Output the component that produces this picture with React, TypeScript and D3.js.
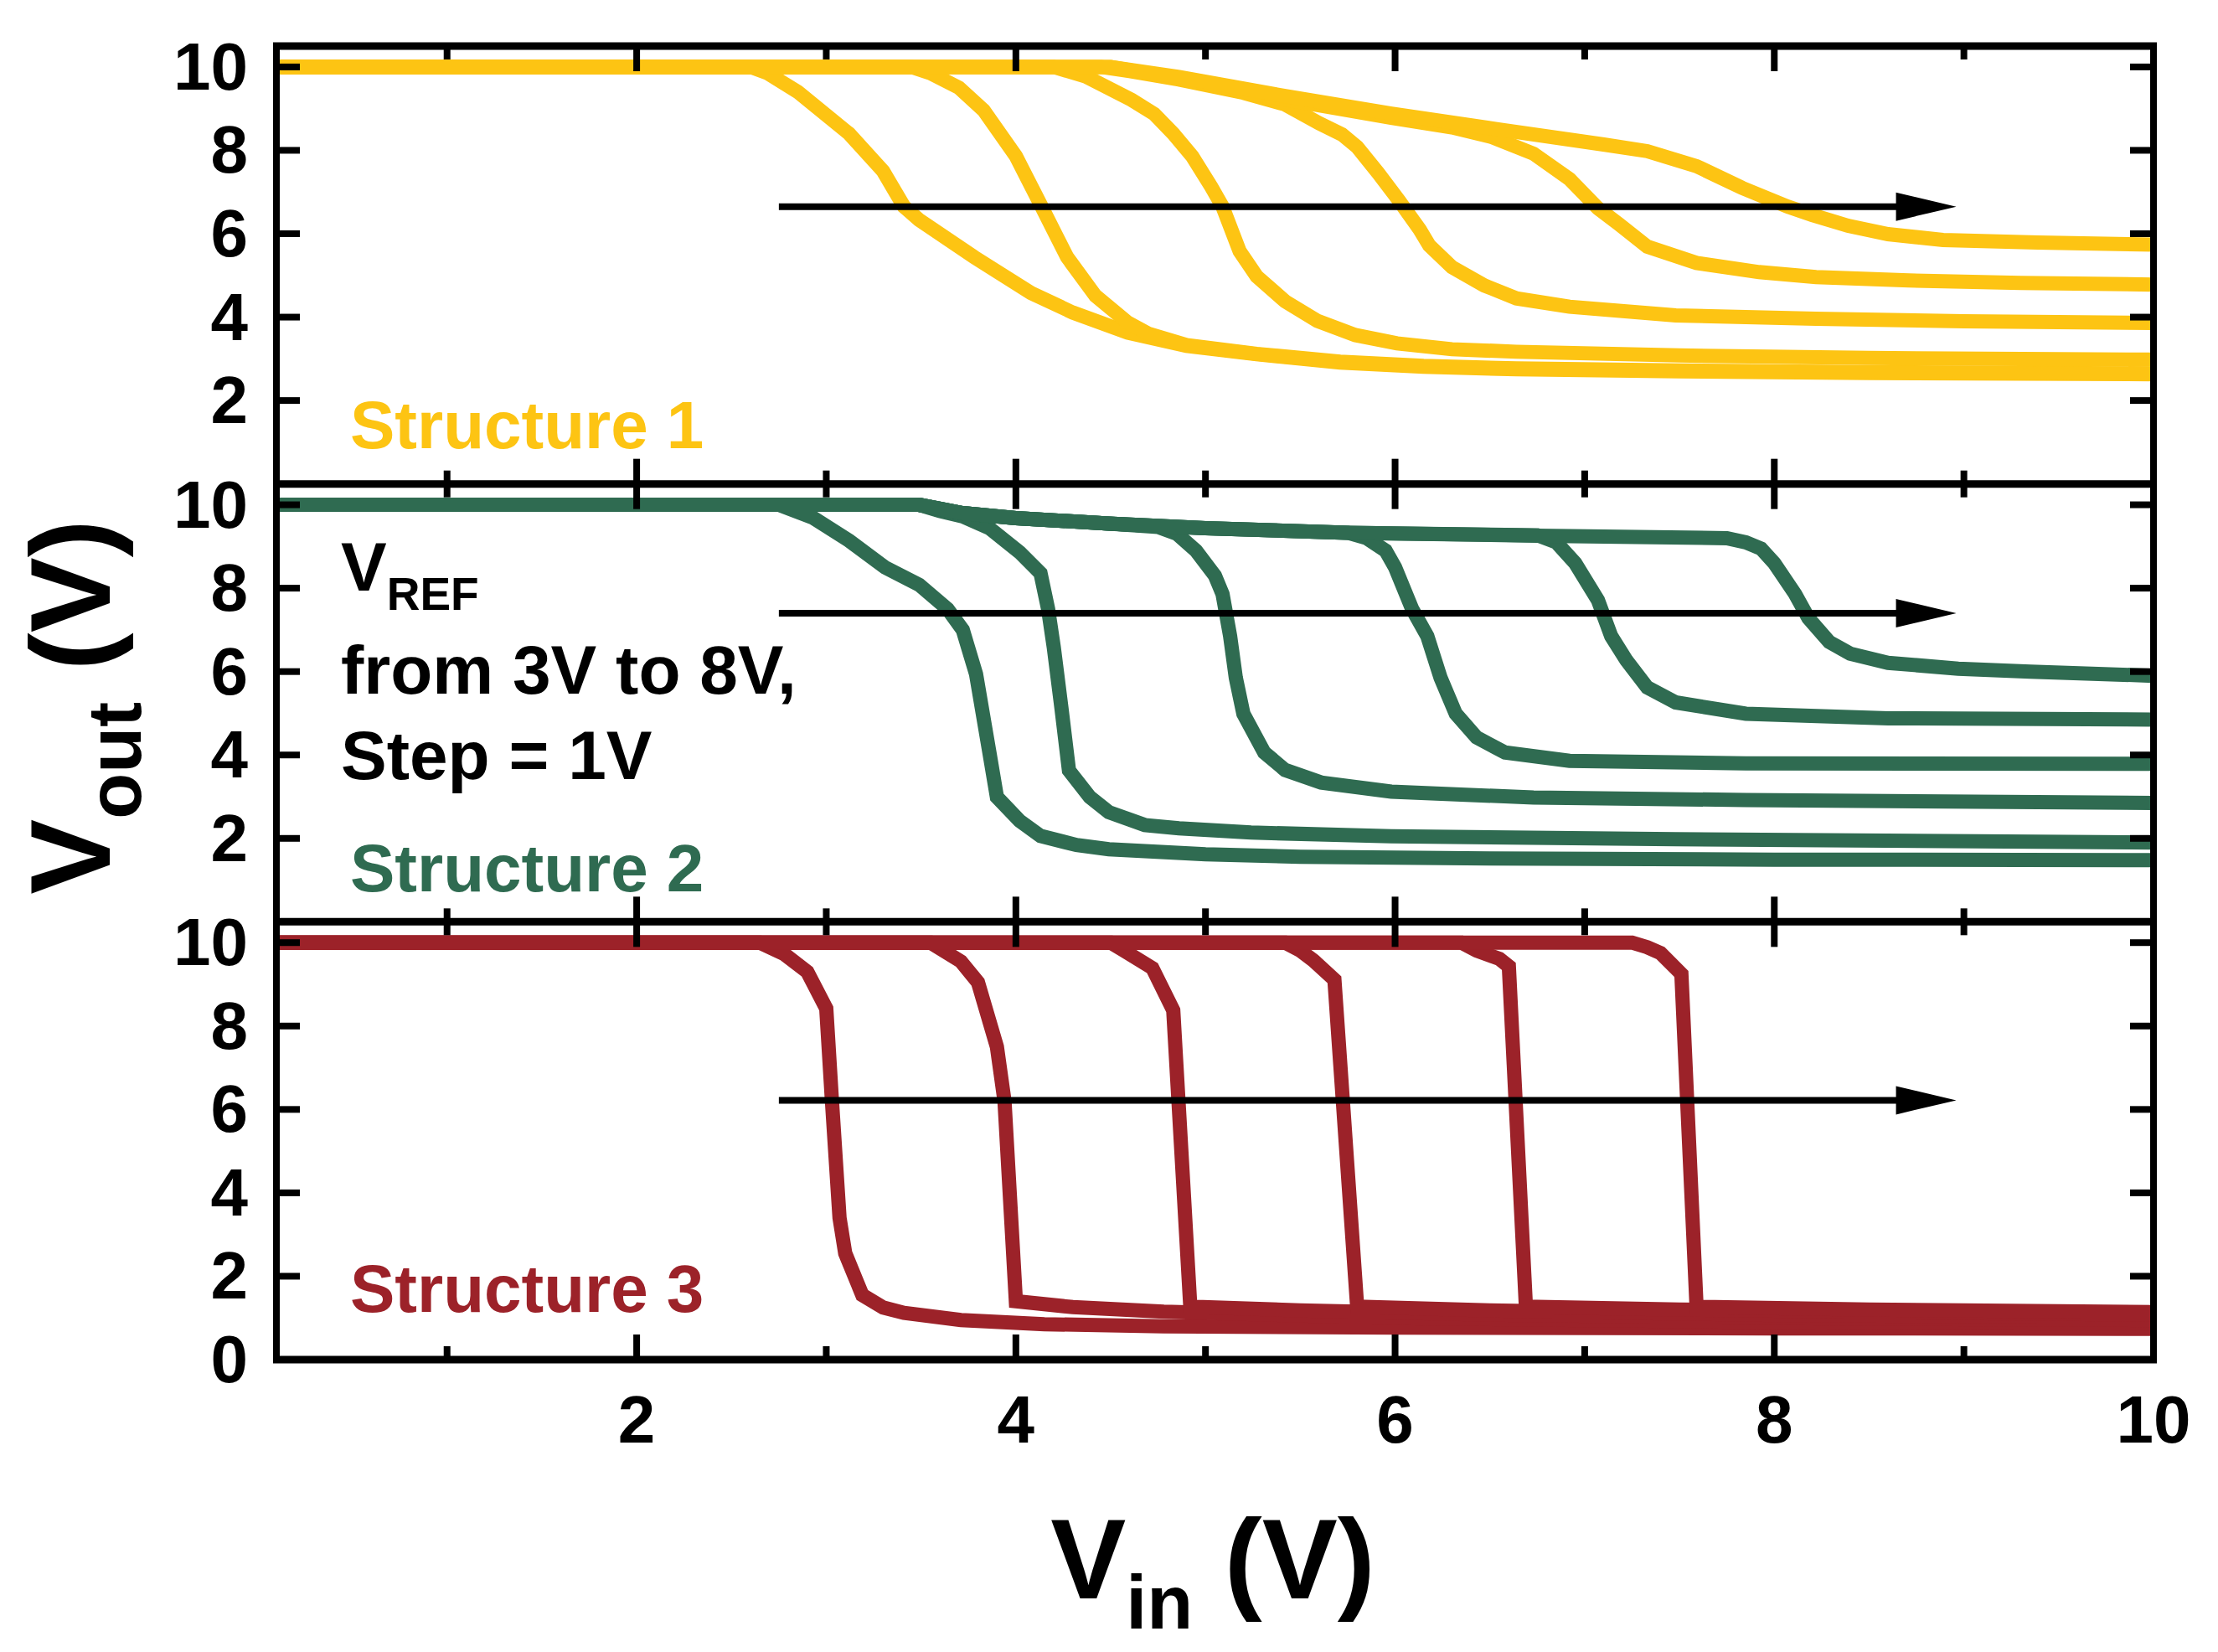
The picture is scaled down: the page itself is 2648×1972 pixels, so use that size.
import React from "react";
import * as d3 from "d3";

type Pt = [number, number];

// ---------- Data (Vin, Vout) ----------
// Structure 1 (yellow)
const s1v3: Pt[] = [[0.1,10],[2.6,10],[2.69,9.85],[2.85,9.4],[3.12,8.4],[3.3,7.5],[3.41,6.65],[3.49,6.33],[3.78,5.44],[4.08,4.58],[4.3,4.11],[4.59,3.63],[4.9,3.31],[5.27,3.11],[5.71,2.91],[6.15,2.81],[6.64,2.75],[7.5,2.7],[8.5,2.66],[10,2.63]];
const s1v4: Pt[] = [[0.1,10],[3.45,10],[3.55,9.85],[3.7,9.5],[3.83,8.96],[4.0,7.86],[4.12,6.79],[4.27,5.44],[4.42,4.51],[4.59,3.87],[4.7,3.6],[4.9,3.33],[5.27,3.12],[5.71,2.93],[6.15,2.83],[6.64,2.77],[7.5,2.72],[8.5,2.68],[10,2.65]];
const s1v5: Pt[] = [[0.1,10],[4.2,10],[4.37,9.77],[4.61,9.21],[4.73,8.87],[4.83,8.4],[4.93,7.86],[5.03,7.13],[5.09,6.65],[5.18,5.58],[5.27,4.98],[5.42,4.38],[5.59,3.91],[5.79,3.57],[6.01,3.37],[6.3,3.23],[6.64,3.17],[7.5,3.08],[8.5,3.02],[10,2.98]];
const s1v6: Pt[] = [[0.1,10],[4.45,10],[4.6,9.9],[4.86,9.7],[5.2,9.38],[5.42,9.1],[5.6,8.65],[5.72,8.38],[5.8,8.08],[5.91,7.46],[6.02,6.8],[6.13,6.1],[6.18,5.72],[6.3,5.2],[6.47,4.76],[6.64,4.45],[6.92,4.25],[7.48,4.04],[8.22,3.96],[9,3.9],[10,3.86]];
const s1v7: Pt[] = [[0.1,10],[4.5,10],[4.86,9.72],[5.42,9.22],[5.98,8.78],[6.3,8.55],[6.51,8.32],[6.73,7.92],[6.92,7.31],[7.07,6.61],[7.18,6.23],[7.33,5.69],[7.59,5.3],[7.92,5.08],[8.22,4.96],[8.71,4.88],[9.3,4.82],[10,4.78]];
const s1v8: Pt[] = [[0.1,10],[4.5,10],[4.86,9.76],[5.42,9.3],[5.98,8.88],[6.55,8.5],[7.1,8.14],[7.33,7.98],[7.59,7.62],[7.77,7.23],[7.83,7.1],[8.07,6.65],[8.2,6.45],[8.39,6.19],[8.6,5.99],[8.89,5.85],[9.39,5.79],[10,5.74]];

// Structure 2 (green)
const s2v3: Pt[] = [[0.1,10],[2.75,10],[2.93,9.69],[3.12,9.14],[3.31,8.5],[3.49,8.08],[3.64,7.5],[3.72,7.0],[3.79,5.94],[3.86,4.07],[3.9,2.99],[4.02,2.42],[4.13,2.06],[4.32,1.84],[4.49,1.74],[5.0,1.62],[5.5,1.56],[6.5,1.52],[8,1.49],[10,1.48]];
const s2v4: Pt[] = [[0.1,10],[3.49,10],[3.6,9.85],[3.72,9.72],[3.86,9.44],[4.02,8.86],[4.13,8.36],[4.17,7.5],[4.2,6.58],[4.24,5.14],[4.28,3.63],[4.39,2.99],[4.49,2.63],[4.68,2.32],[4.86,2.24],[5.24,2.14],[5.98,2.05],[7.48,1.98],[10,1.9]];
const s2v5: Pt[] = [[0.1,10],[3.49,10],[3.72,9.8],[4.0,9.68],[4.49,9.55],[4.75,9.47],[4.85,9.3],[4.95,8.9],[5.05,8.3],[5.09,7.86],[5.13,6.85],[5.16,5.85],[5.2,4.99],[5.31,4.06],[5.42,3.64],[5.61,3.34],[5.98,3.12],[6.73,2.98],[7.85,2.92],[10,2.85]];
const s2v6: Pt[] = [[0.1,10],[3.49,10],[3.72,9.8],[4.0,9.68],[4.49,9.55],[5.0,9.44],[5.75,9.33],[5.85,9.2],[5.95,8.9],[6.0,8.5],[6.09,7.5],[6.17,6.85],[6.24,5.85],[6.32,4.99],[6.43,4.42],[6.58,4.06],[6.92,3.86],[7.85,3.8],[10,3.79]];
const s2v7: Pt[] = [[0.1,10],[3.49,10],[3.72,9.8],[4.0,9.68],[4.49,9.55],[5.0,9.44],[5.75,9.33],[6.75,9.27],[6.85,9.1],[6.95,8.6],[7.07,7.71],[7.14,6.85],[7.22,6.27],[7.33,5.62],[7.48,5.26],[7.85,4.99],[8.6,4.88],[10,4.85]];
const s2v8: Pt[] = [[0.1,10],[3.49,10],[3.72,9.8],[4.0,9.68],[4.49,9.55],[5.0,9.44],[5.75,9.33],[6.75,9.26],[7.75,9.2],[7.85,9.1],[7.93,8.95],[8.0,8.6],[8.11,7.86],[8.18,7.28],[8.29,6.71],[8.4,6.43],[8.6,6.21],[8.97,6.07],[9.35,6.0],[10,5.9]];

// Structure 3 (red)
const s3v3: Pt[] = [[0.1,10],[2.65,10],[2.78,9.72],[2.9,9.3],[3.0,8.42],[3.03,6.2],[3.07,3.4],[3.1,2.55],[3.19,1.55],[3.3,1.25],[3.41,1.12],[3.71,0.95],[4.15,0.85],[4.78,0.8],[6,0.77],[8,0.75],[10,0.74]];
const s3v4: Pt[] = [[0.1,10],[3.55,10],[3.71,9.55],[3.8,9.05],[3.9,7.5],[3.94,6.2],[4.0,1.4],[4.3,1.26],[4.78,1.15],[6,1.0],[8,0.9],[10,0.86]];
const s3v5: Pt[] = [[0.1,10],[4.5,10],[4.57,9.81],[4.72,9.39],[4.83,8.38],[4.92,1.27],[5.5,1.18],[6.5,1.08],[8,1.0],[10,0.95]];
const s3v6: Pt[] = [[0.1,10],[5.42,10],[5.5,9.81],[5.57,9.57],[5.68,9.11],[5.8,1.27],[6.5,1.18],[8,1.07],[10,1.02]];
const s3v7: Pt[] = [[0.1,10],[6.35,10],[6.43,9.81],[6.55,9.61],[6.6,9.43],[6.69,1.27],[7.5,1.2],[9,1.12],[10,1.08]];
const s3v8: Pt[] = [[0.1,10],[7.25,10],[7.33,9.89],[7.4,9.75],[7.51,9.25],[7.59,1.27],[8.5,1.2],[10,1.14]];

const panelSeries: Pt[][][] = [
  [s1v3, s1v4, s1v5, s1v6, s1v7, s1v8],
  [s2v3, s2v4, s2v5, s2v6, s2v7, s2v8],
  [s3v3, s3v4, s3v5, s3v6, s3v7, s3v8],
];
const panelColors = ["#FDC413", "#2F6B51", "#9C2229"];
const panelNames = ["Structure 1", "Structure 2", "Structure 3"];
const arrowY = [6.65, 7.4, 6.22];
const arrowX: [number, number] = [2.75, 8.96];

const xMajor = [2, 4, 6, 8, 10];
const xMinor = [1, 3, 5, 7, 9];
const yTicks = [2, 4, 6, 8, 10];
const yLabelSets = [[2, 4, 6, 8, 10], [2, 4, 6, 8, 10], [0, 2, 4, 6, 8, 10]];

// ---------- Layout ----------
const W = 2648, H = 1972;
const LEFT = 330, RIGHT = 2571;
const TOP = 55, BOTTOM = 1623;
const PH = (BOTTOM - TOP) / 3;
const FONT = "'Liberation Sans', Arial, Helvetica, sans-serif";

const x = d3.scaleLinear().domain([0.1, 10]).range([LEFT, RIGHT]);
const yScales = [0, 1, 2].map((i) =>
  d3.scaleLinear().domain([0, 10.5]).range([TOP + PH * (i + 1), TOP + PH * i])
);

export default function App() {
  const frameH = [TOP, TOP + PH, TOP + 2 * PH, BOTTOM];
  const labelBase = [535, 1064, 1566];
  return (
    <svg width={W} height={H} style={{ position: "absolute", left: 0, top: 0, background: "#fff" }}
      fontFamily={FONT} fontWeight="bold">
      <rect x={0} y={0} width={W} height={H} fill="#fff" />
      {panelSeries.map((series, pi) => {
        const y = yScales[pi];
        const line = d3.line<Pt>().x((d) => x(d[0])).y((d) => y(d[1]));
        return (
          <g key={"p" + pi}>
            {series.map((s, si) => (
              <path key={si} d={line(s) || ""} fill="none" stroke={panelColors[pi]}
                strokeWidth={17} strokeLinejoin="miter" />
            ))}
            {/* arrow */}
            <line x1={x(arrowX[0])} x2={x(arrowX[1]) - 60} y1={y(arrowY[pi])} y2={y(arrowY[pi])}
              stroke="#000" strokeWidth={8} />
            <path d={`M${x(arrowX[1])},${y(arrowY[pi])} L${x(arrowX[1]) - 72},${y(arrowY[pi]) - 17} L${x(arrowX[1]) - 72},${y(arrowY[pi]) + 17} Z`} fill="#000" />
            {/* y ticks */}
            {yTicks.map((t) => (
              <g key={"yt" + t}>
                <line x1={LEFT} x2={LEFT + 28} y1={y(t)} y2={y(t)} stroke="#000" strokeWidth={8} />
                <line x1={RIGHT} x2={RIGHT - 28} y1={y(t)} y2={y(t)} stroke="#000" strokeWidth={8} />
              </g>
            ))}
            {yLabelSets[pi].map((t) => (
              <text key={"yl" + t} x={296} y={y(t) + 27} fontSize={80} textAnchor="end" fill="#000">{t}</text>
            ))}
            <text x={418} y={labelBase[pi]} fontSize={80} fill={panelColors[pi]}>{panelNames[pi]}</text>
          </g>
        );
      })}

      {/* x ticks on every horizontal frame line */}
      {frameH.map((fy, fi) => (
        <g key={"xf" + fi}>
          {xMajor.map((t) => (
            <g key={"M" + t}>
              {fi < 3 && <line x1={x(t)} x2={x(t)} y1={fy} y2={fy + 30} stroke="#000" strokeWidth={8} />}
              {fi > 0 && <line x1={x(t)} x2={x(t)} y1={fy} y2={fy - 30} stroke="#000" strokeWidth={8} />}
            </g>
          ))}
          {xMinor.map((t) => (
            <g key={"m" + t}>
              {fi < 3 && <line x1={x(t)} x2={x(t)} y1={fy} y2={fy + 16} stroke="#000" strokeWidth={8} />}
              {fi > 0 && <line x1={x(t)} x2={x(t)} y1={fy} y2={fy - 16} stroke="#000" strokeWidth={8} />}
            </g>
          ))}
          <line x1={LEFT - 4} x2={RIGHT + 4} y1={fy} y2={fy} stroke="#000" strokeWidth={9} />
        </g>
      ))}
      <line x1={LEFT} x2={LEFT} y1={TOP} y2={BOTTOM} stroke="#000" strokeWidth={8} />
      <line x1={RIGHT} x2={RIGHT} y1={TOP} y2={BOTTOM} stroke="#000" strokeWidth={8} />

      {/* x tick labels */}
      {xMajor.map((t) => (
        <text key={"xl" + t} x={x(t)} y={1722} fontSize={80} textAnchor="middle" fill="#000">{t}</text>
      ))}

      {/* annotation */}
      <text x={407} y={705} fontSize={82} fill="#000">
        V<tspan fontSize={55} dy={23}>REF</tspan>
      </text>
      <text x={407} y={828} fontSize={82} fill="#000">from 3V to 8V,</text>
      <text x={407} y={930} fontSize={82} fill="#000">Step = 1V</text>

      {/* axis titles */}
      <text x={1448} y={1908} fontSize={135} textAnchor="middle" fill="#000">
        V<tspan fontSize={90} dy={36}>in</tspan><tspan dy={-36}> (V)</tspan>
      </text>
      <text transform="translate(131,844) rotate(-90)" fontSize={135} textAnchor="middle" fill="#000">
        V<tspan fontSize={90} dy={37}>out</tspan><tspan dy={-37}> (V)</tspan>
      </text>
    </svg>
  );
}
